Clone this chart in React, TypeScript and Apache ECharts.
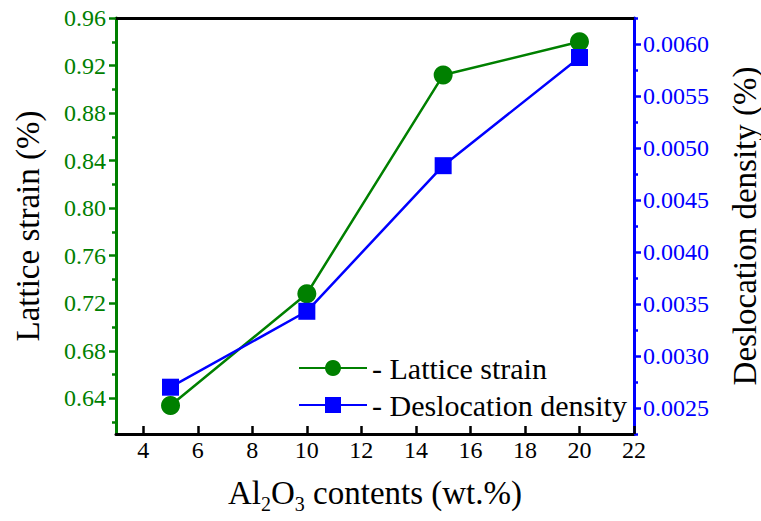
import React, { useEffect, useRef } from "react";
import * as echarts from "echarts";

const xValues = [5, 10, 15, 20];
const latticeStrain = [0.634, 0.728, 0.912, 0.940];
const dislocationDensity = [0.0027, 0.00343, 0.00483, 0.00587];
const xTicks = [4, 6, 8, 10, 12, 14, 16, 18, 20, 22];
const leftTicks = [0.64, 0.68, 0.72, 0.76, 0.8, 0.84, 0.88, 0.92, 0.96];
const leftMinor = [0.62, 0.66, 0.7, 0.74, 0.78, 0.82, 0.86, 0.9, 0.94];
const rightTicks = [0.0025, 0.003, 0.0035, 0.004, 0.0045, 0.005, 0.0055, 0.006];
const rightMinor = [0.00225, 0.00275, 0.00325, 0.00375, 0.00425, 0.00475, 0.00525, 0.00575, 0.00625];

const GREEN = "#008000";
const BLUE = "#0000ff";
const FONT = "Liberation Serif";

const tok = (fontSize: number, color: string) => ({ fontFamily: FONT, fontSize, color });

export default function App() {
  const ref = useRef<HTMLDivElement>(null);
  useEffect(() => {
    if (!ref.current) return;
    const chart = echarts.init(ref.current, null, { renderer: "svg" });
    const LMIN = 0.61, LMAX = 0.96, RMIN = 0.00225, RMAX = 0.00625;
    chart.setOption({
      animation: false,
      backgroundColor: "#ffffff",
      textStyle: { fontFamily: FONT },
      grid: { left: 116, right: 127, top: 18, bottom: 87, containLabel: false, outerBoundsMode: "none" },
      legend: {
        orient: "vertical",
        left: 293,
        top: 348,
        itemWidth: 68,
        itemHeight: 20,
        itemGap: 7,
        textStyle: { fontFamily: FONT, fontSize: 30, color: "#000", rich: { t: tok(30, "#000") } },
        formatter: (n: string) => "{t|- " + n + "}",
        data: ["Lattice strain", "Deslocation density"],
      },
      xAxis: [
        {
          type: "value",
          min: 3,
          max: 22,
          position: "bottom",
          axisLine: { show: true, lineStyle: { color: "#000", width: 3 } },
          axisTick: { show: true, inside: true, length: 8, lineStyle: { color: "#000", width: 2.5 }, customValues: xTicks },
          axisLabel: {
            show: true,
            customValues: xTicks,
            color: "#000",
            fontFamily: FONT,
            fontSize: 24,
            margin: 4,
            rich: { t: tok(24, "#000") },
            formatter: (v: number) => "{t|" + v + "}",
          },
          splitLine: { show: false },
          name: "{t|Al}{sub|2}{t|O}{sub|3}{t| contents (wt.%)}",
          nameLocation: "middle",
          nameGap: 38,
          nameTextStyle: {
            fontFamily: FONT,
            fontSize: 33,
            color: "#000",
            rich: {
              t: tok(33, "#000"),
              sub: { fontFamily: FONT, fontSize: 20, color: "#000", padding: [22, 0, 0, 0] },
            },
          },
        },
        {
          type: "value",
          min: 3,
          max: 22,
          position: "top",
          axisLine: { show: true, lineStyle: { color: "#000", width: 3 } },
          axisTick: { show: false },
          axisLabel: { show: false },
          splitLine: { show: false },
        },
      ],
      yAxis: [
        {
          type: "value",
          min: LMIN,
          max: LMAX,
          position: "left",
          axisLine: { show: true, lineStyle: { color: GREEN, width: 3 } },
          axisTick: { show: true, inside: false, length: 7, lineStyle: { color: GREEN, width: 2.5 }, customValues: leftTicks },
          axisLabel: {
            show: true,
            customValues: leftTicks,
            color: GREEN,
            fontFamily: FONT,
            fontSize: 24,
            margin: 10,
            rich: { t: tok(24, GREEN) },
            formatter: (v: number) => "{t|" + v.toFixed(2) + "}",
          },
          splitLine: { show: false },
          name: "{t|Lattice strain (%)}",
          nameLocation: "middle",
          nameRotate: 90,
          nameGap: 72,
          nameTextStyle: { fontFamily: FONT, fontSize: 33, color: "#000", rich: { t: tok(33, "#000") } },
        },
        {
          type: "value",
          min: RMIN,
          max: RMAX,
          position: "right",
          axisLine: { show: true, lineStyle: { color: BLUE, width: 3 } },
          axisTick: { show: true, inside: false, length: 7, lineStyle: { color: BLUE, width: 2.5 }, customValues: rightTicks },
          axisLabel: {
            show: true,
            customValues: rightTicks,
            color: BLUE,
            fontFamily: FONT,
            fontSize: 24,
            margin: 9,
            rich: { t: tok(24, BLUE) },
            formatter: (v: number) => "{t|" + v.toFixed(4) + "}",
          },
          splitLine: { show: false },
          name: "{t|Deslocation density (%)}",
          nameLocation: "middle",
          nameRotate: 90,
          nameGap: 94,
          nameTextStyle: { fontFamily: FONT, fontSize: 33, color: "#000", rich: { t: tok(33, "#000") } },
        },
        {
          type: "value",
          min: LMIN,
          max: LMAX,
          position: "left",
          axisLine: { show: false },
          axisTick: { show: true, inside: false, length: 4, lineStyle: { color: GREEN, width: 2.5 }, customValues: leftMinor },
          axisLabel: { show: false },
          splitLine: { show: false },
        },
        {
          type: "value",
          min: RMIN,
          max: RMAX,
          position: "right",
          axisLine: { show: false },
          axisTick: { show: true, inside: false, length: 4, lineStyle: { color: BLUE, width: 2.5 }, customValues: rightMinor },
          axisLabel: { show: false },
          splitLine: { show: false },
        },
      ],
      series: [
        {
          name: "Lattice strain",
          type: "line",
          xAxisIndex: 0,
          yAxisIndex: 0,
          data: xValues.map((x, i) => [x, latticeStrain[i]]),
          symbol: "circle",
          symbolSize: 19,
          itemStyle: { color: GREEN },
          lineStyle: { color: GREEN, width: 2.5 },
          z: 3,
        },
        {
          name: "Deslocation density",
          type: "line",
          xAxisIndex: 0,
          yAxisIndex: 1,
          data: xValues.map((x, i) => [x, dislocationDensity[i]]),
          symbol: "rect",
          symbolSize: 17,
          itemStyle: { color: BLUE },
          lineStyle: { color: BLUE, width: 2.5 },
          z: 4,
        },
      ],
    });
    return () => chart.dispose();
  }, []);
  return <div ref={ref} style={{ width: 761, height: 521, position: "absolute", left: 0, top: 0 }} />;
}
